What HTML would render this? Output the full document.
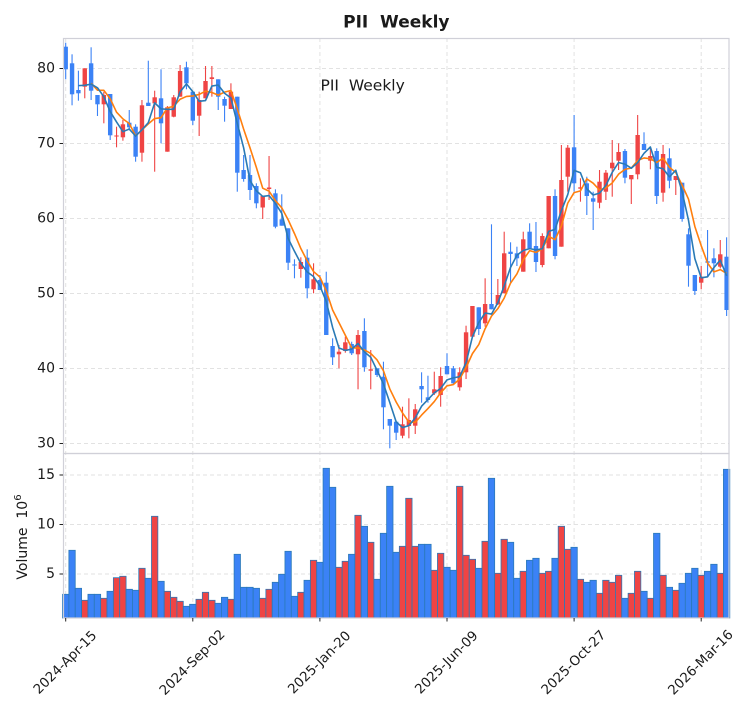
<!DOCTYPE html>
<html>
<head>
<meta charset="utf-8">
<style>
html,body{margin:0;padding:0;background:#fff}
svg{display:block}
text{font-family:"DejaVu Sans","Liberation Sans",sans-serif;fill:#1a1a1a}
</style>
</head>
<body>
<svg id="s" width="750" height="712" viewBox="0 0 750 712" xmlns="http://www.w3.org/2000/svg">
<rect width="750" height="712" fill="#fff"/>
<g stroke="#e2e2e2" stroke-width="1" stroke-dasharray="4,3" fill="none">
  <line x1="63" y1="68.5" x2="729" y2="68.5"/>
  <line x1="63" y1="143.5" x2="729" y2="143.5"/>
  <line x1="63" y1="218.5" x2="729" y2="218.5"/>
  <line x1="63" y1="293.5" x2="729" y2="293.5"/>
  <line x1="63" y1="368.5" x2="729" y2="368.5"/>
  <line x1="63" y1="443.5" x2="729" y2="443.5"/>
  <line x1="63" y1="475" x2="729" y2="475"/>
  <line x1="63" y1="524.5" x2="729" y2="524.5"/>
  <line x1="63" y1="574" x2="729" y2="574"/>
  <line x1="65.7" y1="38" x2="65.7" y2="618"/>
  <line x1="192.8" y1="38" x2="192.8" y2="618"/>
  <line x1="319.9" y1="38" x2="319.9" y2="618"/>
  <line x1="447" y1="38" x2="447" y2="618"/>
  <line x1="574.1" y1="38" x2="574.1" y2="618"/>
  <line x1="701.2" y1="38" x2="701.2" y2="618"/>
</g>
<g id="vol"></g>
<g id="cdl"></g>
<g id="ma"></g>
<rect x="63.5" y="38.5" width="665.5" height="415" fill="none" stroke="#d0d0d8" stroke-width="1.2"/>
<rect x="63.5" y="453.5" width="665.5" height="164.5" fill="none" stroke="#d0d0d8" stroke-width="1.2"/>
<g stroke="#222" stroke-width="1">
  <line x1="59.5" y1="68.5" x2="63" y2="68.5"/>
  <line x1="59.5" y1="143.5" x2="63" y2="143.5"/>
  <line x1="59.5" y1="218.5" x2="63" y2="218.5"/>
  <line x1="59.5" y1="293.5" x2="63" y2="293.5"/>
  <line x1="59.5" y1="368.5" x2="63" y2="368.5"/>
  <line x1="59.5" y1="443.5" x2="63" y2="443.5"/>
  <line x1="59.5" y1="475" x2="63" y2="475"/>
  <line x1="59.5" y1="524.5" x2="63" y2="524.5"/>
  <line x1="59.5" y1="574" x2="63" y2="574"/>
  <line x1="65.7" y1="618" x2="65.7" y2="621.5"/>
  <line x1="192.8" y1="618" x2="192.8" y2="621.5"/>
  <line x1="319.9" y1="618" x2="319.9" y2="621.5"/>
  <line x1="447" y1="618" x2="447" y2="621.5"/>
  <line x1="574.1" y1="618" x2="574.1" y2="621.5"/>
  <line x1="701.2" y1="618" x2="701.2" y2="621.5"/>
</g>
<g font-size="14" text-anchor="end">
  <text x="55" y="68.5" dominant-baseline="central">80</text>
  <text x="55" y="143.5" dominant-baseline="central">70</text>
  <text x="55" y="218.5" dominant-baseline="central">60</text>
  <text x="55" y="293.5" dominant-baseline="central">50</text>
  <text x="55" y="368.5" dominant-baseline="central">40</text>
  <text x="55" y="443.5" dominant-baseline="central">30</text>
  <text x="55" y="475" dominant-baseline="central">15</text>
  <text x="55" y="524.5" dominant-baseline="central">10</text>
  <text x="55" y="574" dominant-baseline="central">5</text>
</g>
<g font-size="13.4" text-anchor="middle">
  <text x="65.7" y="663" dominant-baseline="central" transform="rotate(-45 65.7 663)">2024-Apr-15</text>
  <text x="192.8" y="663" dominant-baseline="central" transform="rotate(-45 192.8 663)">2024-Sep-02</text>
  <text x="319.9" y="663" dominant-baseline="central" transform="rotate(-45 319.9 663)">2025-Jan-20</text>
  <text x="447" y="663" dominant-baseline="central" transform="rotate(-45 447 663)">2025-Jun-09</text>
  <text x="574.1" y="663" dominant-baseline="central" transform="rotate(-45 574.1 663)">2025-Oct-27</text>
  <text x="701.2" y="663" dominant-baseline="central" transform="rotate(-45 701.2 663)">2026-Mar-16</text>
</g>
<text x="27" y="537" font-size="14" text-anchor="middle" transform="rotate(-90 27 537)" xml:space="preserve">Volume  10<tspan dy="-6" font-size="10">6</tspan></text>
<text x="396.3" y="27.3" font-size="17" font-weight="bold" text-anchor="middle" xml:space="preserve">PII  Weekly</text>
<text x="320.5" y="90.7" font-size="15.5" xml:space="preserve">PII  Weekly</text>
</svg>
<script>
(function(){
var NS="http://www.w3.org/2000/svg";
var D=[
['B',42.7,79.3,46.7,69.3],['B',54.3,105.3,63.3,94.3],['B',70.7,100.7,90,93.3],['R',68.3,98.3,68.3,86.7],
['B',47.3,100,63.3,90.7],['B',95,116,95,104.3],['R',91.7,123.3,95,104.3],['B',94,140,94,135.3],
['R',126.7,147.3,135.5,136.5],['R',120,140.7,124.3,137.3],['B',110,130,122.7,127.3],['B',124.3,161.7,126.7,156.7],
['R',100,161.7,105.3,152.7],['B',60.7,106,102.7,106],['R',90.7,171.7,97.3,103.3],['B',69.3,143.3,98.3,123.3],
['R',106,151.7,107.3,151.7],['R',95,117.3,97.3,116.7],['R',65,96.7,71,96.7],['B',61.7,89.3,67.3,83.3],
['B',91.7,125,91.7,120.7],['R',91.7,136,100,115.7],['R',66,98.3,81,98.3],['R',66,96.7,77.3,79],
['B',79.3,110,79.3,96.7],['B',96.7,121.7,99,105.7],['R',83.3,109,91.7,109],['B',96.7,191.7,96.7,172.7],
['B',155,181.7,170,179],['B',155,200,175,190],['B',183.3,208.3,186,203.3],['R',195.7,219,196,207.5],
['R',156,200,187.5,189],['B',189.3,228.3,193.3,226.7],['B',194.3,225.7,219.3,225.7],['B',228.3,270,228.3,262.7],
['B',259.3,278.3,264.5,265.5],['R',257.3,277.7,262,269],['B',249.3,298.3,257.7,288.3],['R',263.3,293.3,279.3,289.3],
['B',275,290,280,290],['B',271.7,335,282.7,335],['B',338.3,365,346,357.3],['R',345,368.3,351.7,354.3],
['R',336.7,352.7,342.3,351],['B',341.7,355,344,353.3],['R',330,389.3,335,354.3],['B',318.3,371.7,331,367.3],
['R',350,389.3,369.3,370.7],['B',368.3,377,368.3,375],['B',361.7,429.3,376.7,407.3],['B',419,448.3,419,425.7],
['B',420.7,440,421.7,432.7],['R',406.7,438.3,424.3,435.7],['R',398.3,438.3,420,426],['R',404,434,409.3,425.7],
['B',372.3,402.7,386,389.3],['B',375.7,402.7,397.3,400],['R',371.7,395,389.3,393.3],['R',367.3,406.7,376,395],
['B',353.3,374.3,366,374.3],['B',366,384,368.3,383.3],['R',367.3,390.7,372.3,387.3],['R',325.7,379,332.3,372.3],
['R',306,336.7,306,336.7],['B',307.3,335,307.3,329],['R',278.3,326.7,304,323.3],['B',224.3,309.3,304,309.3],
['R',279,305,295,304.3],['R',231.7,293.3,253.3,293.3],['B',242.3,283.3,251.7,254],['B',246.7,266,253.3,258.3],
['R',231.7,271.7,239.3,271.7],['B',223.3,248.3,231.7,248.3],['B',222,272,246,262],['R',233.3,267.3,236,265],
['R',196,248.3,196,248.3],['B',189.3,259.3,196,256],['R',145,246.7,180,246.7],['R',145,191.7,147.7,176.7],
['B',115,191.7,147.3,183.3],['R',178.3,201.7,187.3,188.7],['B',176.7,215,183.3,196],['B',191.7,230,198.3,201.7],
['R',170,208.3,181.7,202.7],['R',170,200,172.7,191.7],['R',140,196.7,162.7,168.3],['R',143.3,170,152,160.7],
['B',149,183.3,151,177.7],['R',175,204,175,179.3],['R',115,179.3,135,174.3],['B',132.3,150,144,150],
['R',148.3,169.3,156,160.7],['B',148.3,204,151,196],['R',145,201.7,154,192.7],['B',148.3,188.3,158.3,180.7],
['R',176,195,176,180],['B',182.7,221.7,182.7,219],['B',228.3,286.7,234.3,265.7],['B',275,295,275,291],
['R',266,289.3,276.7,282.7],['B',230,276.7,261.3,262.7],['B',248.3,277.3,258.3,263.3],['R',240,268.3,254.3,266.7],
['B',237.3,316,256.7,310]
];
var V=[594.3,550.3,588.3,600.3,594.3,594.3,598.3,591.3,577.7,576.3,589.3,590.3,568.3,578.3,516.3,581.3,591.3,597.3,601.3,606.3,
604.3,599.3,592.3,600.3,603.3,597.3,599.3,554.3,587.3,587.3,588.3,598.3,589.3,582.3,574.3,551.3,596.3,592.3,580.3,560.3,
562.3,468.3,487.3,567.3,561.3,554.3,515.3,526.3,542.3,579.3,533.3,486.3,552.3,546.3,498.3,546.3,544.3,544.3,570.3,553.3,
567.3,570.3,486.3,555.3,559.3,568.3,541.3,478.3,573.3,539.3,542.3,578.3,571.3,560.3,558.3,573.3,571.3,558.3,526.3,549.3,
547.3,579.3,582.3,580.3,593.3,580.3,582.3,575.3,598.3,593.3,571.3,591.3,598.3,533.3,575.3,587.3,590.3,583.3,573.3,568.3,
575.3,571.3,564.3,573.3,469.3];
var BLUE="#3b82f6",RED="#ef4444";
function el(t,a,p){var e=document.createElementNS(NS,t);for(var k in a)e.setAttribute(k,a[k]);p.appendChild(e);return e;}
var gv=document.getElementById("vol"),gc=document.getElementById("cdl"),gm=document.getElementById("ma");
var X=function(i){return 65.7+i*6.355;};
var W=6.355;
for(var i=0;i<V.length;i++){
  var c=D[i][0]=='R'?RED:BLUE;
  var top=V[i];
  el("rect",{x:(X(i)-W/2).toFixed(2),y:top,width:W.toFixed(2),height:(618-top).toFixed(2),fill:c,stroke:"#2b79b8","stroke-width":"0.8"},gv);
}
var closes=[];
for(var i=0;i<D.length;i++){
  var d=D[i],c=d[0]=='R'?RED:BLUE,x=X(i);
  el("line",{x1:x.toFixed(2),y1:d[1],x2:x.toFixed(2),y2:d[2],stroke:c,"stroke-width":"1.1"},gc);
  var h=Math.max(1,d[4]-d[3]);
  el("rect",{x:(x-2.2).toFixed(2),y:d[3],width:"4.4",height:h.toFixed(2),fill:c},gc);
  closes.push(d[0]=='R'?d[3]:d[4]);
}
function ma(n){var pts=[];for(var i=n-1;i<closes.length;i++){var s=0;for(var j=i-n+1;j<=i;j++)s+=closes[j];pts.push(X(i).toFixed(2)+","+(s/n).toFixed(2));}return pts.join(" ");}
el("polyline",{points:ma(5),fill:"none",stroke:"#ff7f0e","stroke-width":"1.6","stroke-linejoin":"round"},gm);
el("polyline",{points:ma(3),fill:"none",stroke:"#2a7ab5","stroke-width":"1.6","stroke-linejoin":"round"},gm);
})();
</script>
</body>
</html>
